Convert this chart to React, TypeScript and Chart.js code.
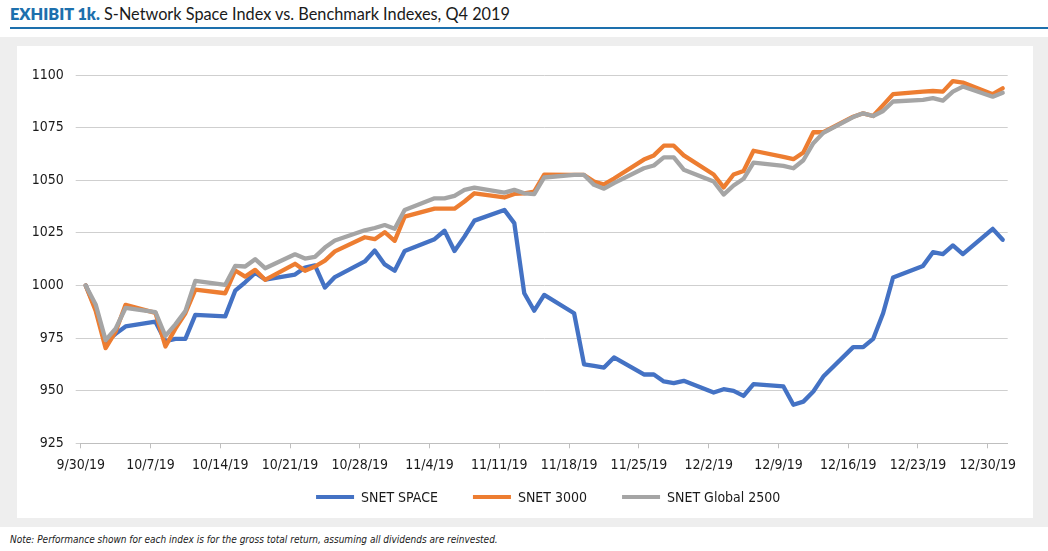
import React, { useEffect, useRef } from "react";
import { Chart, registerables } from "chart.js";

Chart.register(...registerables);

// Trading days (2019), one value per weekday
const dates = [
  "9/30", "10/1", "10/2", "10/3", "10/4", "10/7", "10/8", "10/9", "10/10", "10/11",
  "10/14", "10/15", "10/16", "10/17", "10/18", "10/21", "10/22", "10/23", "10/24", "10/25",
  "10/28", "10/29", "10/30", "10/31", "11/1", "11/4", "11/5", "11/6", "11/7", "11/8",
  "11/11", "11/12", "11/13", "11/14", "11/15", "11/18", "11/19", "11/20", "11/21", "11/22",
  "11/25", "11/26", "11/27", "11/28", "11/29", "12/2", "12/3", "12/4", "12/5", "12/6",
  "12/9", "12/10", "12/11", "12/12", "12/13", "12/16", "12/17", "12/18", "12/19", "12/20",
  "12/23", "12/24", "12/25", "12/26", "12/27", "12/30", "12/31",
];

const snetSpace = [
  1000, 989, 973, 977, 980.5, 982.8, 973.5, 974.6, 974.6, 986,
  985.3, 997.5, 1001.5, 1006, 1002.8, 1005.2, 1008.5, 1009.5, 999, 1004,
  1011.4, 1016.6, 1010, 1007, 1016.4, 1022, 1026, 1016.4, 1023.2, 1030.8,
  1035.9, 1029.6, 996.3, 988, 995.5, 986.8, 962.5, 961.8, 961, 965.8,
  957.7, 957.7, 954.4, 953.6, 954.7, 949.1, 950.7, 949.9, 947.5, 953.1,
  952, 943.3, 944.8, 949.6, 956.7, 970.7, 970.7, 974.6, 986.8, 1003.8,
  1009.3, 1015.8, 1014.9, 1019, 1014.9, 1026.9, 1021.7,
];

const snet3000 = [
  1000, 988, 970.2, 978, 990.8, 987, 971, 979.5, 986.8, 998,
  996.3, 1007.1, 1004.2, 1007.4, 1002.7, 1010.3, 1007, 1009, 1011.8, 1016.2,
  1022.9, 1022, 1025.3, 1021.2, 1032.7, 1036.5, 1036.5, 1036.5, 1039.9, 1043.8,
  1041.8, 1043.5, 1043.8, 1044.6, 1052.7, 1052.5, 1052.5, 1049.4, 1048, 1050.8,
  1059.8, 1061.8, 1066.4, 1066.4, 1061.8, 1052.7, 1046.6, 1052.7, 1054.4, 1064,
  1061.1, 1060, 1063.2, 1072.8, 1072.8, 1080.2, 1081.8, 1080.5, 1085.7, 1090.9,
  1092.1, 1092.4, 1092.1, 1097.1, 1096.4, 1090.9, 1093.7,
];

const snetGlobal2500 = [
  1000, 991, 974, 979.5, 989.3, 987.3, 976, 981.5, 987.8, 1002.2,
  1000.3, 1009.3, 1009, 1012.5, 1008.2, 1014.8, 1012.8, 1013.6, 1018, 1021.4,
  1026.2, 1027.3, 1028.7, 1026.9, 1035.9, 1041.4, 1041.4, 1042.6, 1045.4, 1046.5,
  1044.1, 1045.4, 1043.8, 1043.4, 1051.3, 1052.5, 1052.5, 1047.8, 1046, 1048.6,
  1055.7, 1057, 1060.9, 1060.9, 1055, 1049.4, 1043.2, 1047.5, 1050.7, 1058.4,
  1056.8, 1055.7, 1059.5, 1067.6, 1072.5, 1080, 1081.8, 1080.5, 1082.9, 1087.4,
  1088.2, 1089, 1087.8, 1092.1, 1094.5, 1089.7, 1091.6,
];

const seriesNames = ["SNET SPACE", "SNET 3000", "SNET Global 2500"];
const seriesColors = ["#4472C4", "#ED7D31", "#A5A5A5"];
const yTicks = [925, 950, 975, 1000, 1025, 1050, 1075, 1100];
const xTickDates = [
  "9/30", "10/7", "10/14", "10/21", "10/28", "11/4", "11/11",
  "11/18", "11/25", "12/2", "12/9", "12/16", "12/23", "12/30",
];
const YEAR_SUFFIX = "19";
const lastDate = "12/31";

const FONT = "'Liberation Sans Narrow', 'DejaVu Sans Condensed', 'Roboto', sans-serif";

function dayNum(s: string): number {
  const [m, d] = s.split("/").map(Number);
  return Math.round(Date.UTC(2019, m - 1, d) / 86400000);
}
const origin = dayNum(dates[0]);
const dayIndex = (s: string) => dayNum(s) - origin;

const legendPlugin = {
  id: "customLegend",
  afterDraw(chart: any) {
    const ctx = chart.ctx;
    const area = chart.chartArea;
    ctx.save();
    ctx.font = `14px ${FONT}`;
    const markerW = 38;
    const markerGap = 7;
    const itemGap = 35;
    const widths = seriesNames.map((n) => markerW + markerGap + ctx.measureText(n).width);
    const total = widths.reduce((a, b) => a + b, 0) + itemGap * (widths.length - 1);
    let x = (area.left + area.right) / 2 + 4 - total / 2;
    const y = 451;
    seriesNames.forEach((n, i) => {
      ctx.fillStyle = seriesColors[i];
      ctx.fillRect(x, y - 2, markerW, 4);
      ctx.fillStyle = "#1a1a1a";
      ctx.textBaseline = "middle";
      ctx.textAlign = "left";
      ctx.fillText(n, x + markerW + markerGap, y + 1);
      x += widths[i] + itemGap;
    });
    ctx.restore();
  },
};

function LineChart() {
  const ref = useRef<HTMLCanvasElement | null>(null);
  useEffect(() => {
    if (!ref.current) return;
    const series = [snetSpace, snet3000, snetGlobal2500];
    const xVals = dates.map((d) => dayIndex(d) + 0.5);
    const xTickVals = xTickDates.map((d) => dayIndex(d));
    const chart = new Chart(ref.current, {
      type: "line",
      data: {
        datasets: series.map((vals, i) => ({
          label: seriesNames[i],
          data: vals.map((v, j) => ({ x: xVals[j], y: v })),
          borderColor: seriesColors[i],
          backgroundColor: seriesColors[i],
          borderWidth: 4.3,
          pointRadius: 0,
          tension: 0,
          borderJoinStyle: "round",
          borderCapStyle: "round",
          order: series.length - i,
        })),
      },
      options: {
        animation: false,
        responsive: false,
        maintainAspectRatio: false,
        layout: { padding: { top: 29, right: 25.3, bottom: 43.7, left: 0 } },
        plugins: {
          legend: { display: false },
          tooltip: { enabled: false },
          title: { display: false },
        },
        scales: {
          x: {
            type: "linear",
            min: 0,
            max: dayIndex(lastDate) + 1,
            afterBuildTicks: (scale: any) => {
              scale.ticks = xTickVals.map((v) => ({ value: v }));
            },
            afterFit: (scale: any) => {
              scale.height = 31;
            },
            grid: {
              drawOnChartArea: false,
              drawTicks: true,
              tickLength: 5,
              color: "#bfbfbf",
            },
            border: { display: true, color: "#bfbfbf", width: 1 },
            ticks: {
              autoSkip: false,
              maxRotation: 0,
              padding: 9,
              color: "#1a1a1a",
              font: { family: FONT, size: 14 },
              callback: (value: any) => {
                const i = xTickVals.indexOf(Number(value));
                return i >= 0 ? `${xTickDates[i]}/${YEAR_SUFFIX}` : "";
              },
            },
          },
          y: {
            min: yTicks[0],
            max: yTicks[yTicks.length - 1],
            afterBuildTicks: (scale: any) => {
              scale.ticks = yTicks.map((v) => ({ value: v }));
            },
            afterFit: (scale: any) => {
              scale.width = 63.7;
            },
            grid: {
              color: "#cfcfcf",
              lineWidth: 1,
              drawTicks: true,
              tickLength: 5,
            },
            border: { display: false },
            ticks: {
              padding: 12,
              color: "#1a1a1a",
              font: { family: FONT, size: 14 },
              callback: (value: any) => String(value),
            },
          },
        },
      },
      plugins: [legendPlugin],
    } as any);
    return () => chart.destroy();
  }, []);
  return <canvas ref={ref} width={1016} height={472} style={{ display: "block" }} />;
}

export default function App() {
  useEffect(() => {
    document.body.style.margin = "0";
  }, []);
  return (
    <div style={{ position: "relative", width: 1048, height: 551, background: "#ffffff", overflow: "hidden" }}>
      <div
        style={{
          position: "absolute",
          left: 10,
          top: 4,
          fontFamily: "Lato, 'Open Sans', sans-serif",
          fontSize: 16.3,
          whiteSpace: "nowrap",
          color: "#1a1a1a",
        }}
      >
        <span style={{ fontWeight: 800, color: "#1d70ad" }}>EXHIBIT 1k.</span>{" "}
        <span>S-Network Space Index vs. Benchmark Indexes, Q4 2019</span>
      </div>
      <div style={{ position: "absolute", left: 10, top: 27, width: 1038, height: 2, background: "#1d70ad" }} />
      <div style={{ position: "absolute", left: 0, top: 37, width: 1048, height: 490, background: "#eeeeee" }} />
      <div style={{ position: "absolute", left: 17, top: 46, width: 1016, height: 472, background: "#ffffff" }}>
        <LineChart />
      </div>
      <div
        style={{
          position: "absolute",
          left: 10,
          top: 534,
          fontFamily: FONT,
          fontStyle: "italic",
          fontSize: 10,
          color: "#1a1a1a",
          whiteSpace: "nowrap",
        }}
      >
        Note: Performance shown for each index is for the gross total return, assuming all dividends are reinvested.
      </div>
    </div>
  );
}
